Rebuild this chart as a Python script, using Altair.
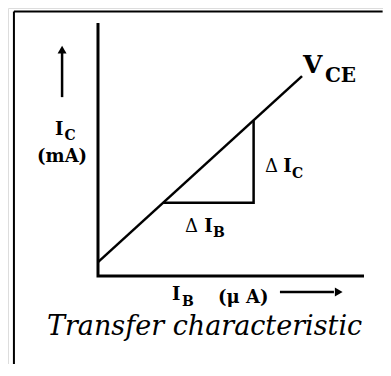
import altair as alt
import pandas as pd

# Transfer characteristic: I_C (mA) vs I_B (uA), arbitrary units
ib_line = [0.0, 7.67]
ic_line = [0.55, 7.9]

# Delta triangle vertices (on the characteristic)
tri_ib = [2.45, 5.85, 5.85]
tri_ic = [2.9, 2.9, 6.15]

# Axis extents
ib_max = 10.0
ic_max = 10.0

# Frame (top and left border of the figure)
frame_left = -3.16
frame_top = 10.45
frame_right = 10.7

# Labels: text, I_B position, I_C position (baseline-left), style group
label_text = ["V", "CE", "I", "C", "(mA)", "Δ", "I", "C", "Δ", "I", "B", "I", "B", "(μ A)", "Transfer characteristic"]
label_ib = [7.71, 8.53, -1.62, -1.26, -2.29, 6.28, 6.96, 7.29, 3.27, 3.99, 4.32, 2.78, 3.16, 4.51, -1.92]
label_ic = [8.02, 7.67, 5.57, 5.38, 4.51, 4.11, 4.11, 3.87, 1.74, 1.74, 1.54, -0.95, -1.19, -1.07, -2.33]
label_kind = ["big", "mid", "main", "sub", "main", "delta", "main", "sub", "delta", "main", "sub", "main", "sub", "main2", "title"]

# Arrows along the axes
up_arrow_ib = [-1.35, -1.35]
up_arrow_ic = [7.07, 8.85]
up_tip = (-1.35, 8.95)
right_arrow_ib = [6.84, 8.87]
right_arrow_ic = [-0.63, -0.63]
right_tip = (9.05, -0.63)

W, H = 375, 356
xdom = [-3.383, 10.714]
ydom = [-(H - 268) / 25.3, 10.593]

xs = alt.Scale(domain=xdom, nice=False, zero=False)
ys = alt.Scale(domain=ydom, nice=False, zero=False)

def X(field="x"):
    return alt.X(f"{field}:Q", scale=xs, axis=None)

def Y(field="y"):
    return alt.Y(f"{field}:Q", scale=ys, axis=None)

axes_df = pd.DataFrame({
    "x": [0.0, 0.0, ib_max],
    "y": [ic_max, 0.0, 0.0],
    "o": [0, 1, 2],
})
axes = alt.Chart(axes_df).mark_line(color="black", strokeWidth=3, strokeJoin="miter").encode(
    x=X(), y=Y(), order="o:Q")

# figure border (left and top)
left_df = pd.DataFrame({"fx": [frame_left], "fy": [ydom[0]], "fy2": [frame_top]})
left_border = alt.Chart(left_df).mark_rule(color="black", strokeWidth=2).encode(
    x=X("fx"), y=Y("fy"), y2="fy2:Q")
top_df = pd.DataFrame({"tx": [frame_left], "tx2": [frame_right], "ty": [frame_top]})
top_border = alt.Chart(top_df).mark_rule(color="black", strokeWidth=2).encode(
    x=X("tx"), x2="tx2:Q", y=Y("ty"))

line_df = pd.DataFrame({"x": ib_line, "y": ic_line})
char = alt.Chart(line_df).mark_line(color="black", strokeWidth=2.5).encode(x=X(), y=Y())

tri_df = pd.DataFrame({"x": tri_ib, "y": tri_ic, "o": [0, 1, 2]})
tri = alt.Chart(tri_df).mark_line(color="black", strokeWidth=2.5, strokeJoin="miter").encode(
    x=X(), y=Y(), order="o:Q")

arrow_df = pd.DataFrame({
    "x": up_arrow_ib + right_arrow_ib,
    "y": up_arrow_ic + right_arrow_ic,
    "g": ["u", "u", "r", "r"],
})
arrows = alt.Chart(arrow_df).mark_line(color="black", strokeWidth=2.5).encode(
    x=X(), y=Y(), detail="g:N")

tip_df = pd.DataFrame({"x": [up_tip[0]], "y": [up_tip[1]]})
up_head = alt.Chart(tip_df).mark_point(shape="triangle-up", filled=True, color="black",
                                       size=80, opacity=1).encode(x=X(), y=Y())
tip_df2 = pd.DataFrame({"x": [right_tip[0]], "y": [right_tip[1]]})
right_head = alt.Chart(tip_df2).mark_point(shape="triangle-right", filled=True, color="black",
                                           size=80, opacity=1).encode(x=X(), y=Y())

labels = pd.DataFrame({"t": label_text, "x": label_ib, "y": label_ic, "k": label_kind})

def text_layer(kind, **kw):
    base = dict(align="left", baseline="alphabetic", font="DejaVu Serif", color="black")
    base.update(kw)
    return alt.Chart(labels).transform_filter(alt.datum.k == kind).mark_text(**base).encode(
        x=X(), y=Y(), text="t:N")

t_big = text_layer("big", fontSize=25, fontWeight="bold")
t_mid = text_layer("mid", fontSize=20, fontWeight="bold")
t_main = text_layer("main", fontSize=18, fontWeight="bold")
t_main2 = text_layer("main2", fontSize=18, fontWeight="bold")
t_sub = text_layer("sub", fontSize=14, fontWeight="bold")
t_delta = text_layer("delta", fontSize=18)
t_title = text_layer("title", fontSize=27, fontStyle="italic")

chart = alt.layer(
    left_border, top_border, axes, char, tri, arrows, up_head, right_head,
    t_big, t_mid, t_main, t_main2, t_sub, t_delta, t_title
).properties(
    width=W, height=H, padding=0, autosize=alt.AutoSizeParams(type="none")
).configure_view(stroke=None).configure(background="white")

chart.save("out.html", embed_options={"renderer": "svg", "actions": False})
